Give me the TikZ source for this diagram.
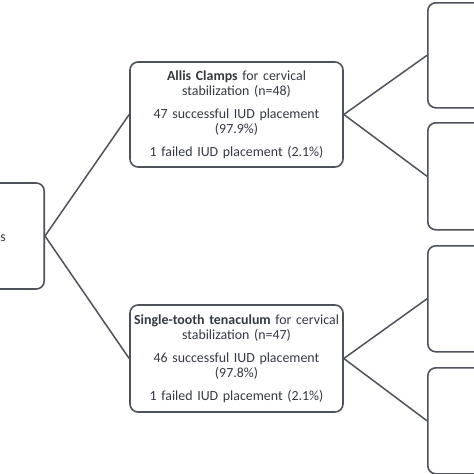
\documentclass[tikz,border=0pt]{standalone}
\usepackage{fontspec}
\setmainfont{Carlito}
\usepackage{xcolor}
\usepackage{tikz}
\usetikzlibrary{positioning}

\definecolor{edgegray}{HTML}{4E525B}
\definecolor{inkgray}{HTML}{353943}

\tikzset{
  box/.style={draw=edgegray, line width=1.6pt, rounded corners=8pt, fill=white},
  info/.style={box, text=inkgray, align=center, text width=205pt, inner sep=0pt,
    font=\fontsize{13.9pt}{15pt}\selectfont},
  link/.style={draw=edgegray, line width=1.5pt}
}

\begin{document}
\begin{tikzpicture}[x=1pt, y=-1pt]
\useasboundingbox (0,0) rectangle (474,474);

% Source box (cut off at the left)
\node[box, minimum width=110pt, minimum height=106pt, anchor=east] (src) at (45,236) {};
\node[text=inkgray, font=\fontsize{13.9pt}{15pt}\selectfont, anchor=base east, inner sep=0pt] (srcText) at (6,241) {s};

% Two arms
\node[info, minimum width=213pt, minimum height=105pt] (allis) at (236.5,114.5) {%
  \textbf{Allis Clamps} for cervical\\ stabilization (n=48)\\[7.5pt]
  47 successful IUD placement\\ (97.9\%)\\[8pt]
  1 failed IUD placement (2.1\%)};
\node[info, minimum width=213pt, minimum height=107pt] (tenac) at (236.5,358.5) {%
  \textbf{Single-tooth tenaculum} for cervical\\ stabilization (n=47)\\[7.5pt]
  46 successful IUD placement\\ (97.8\%)\\[8pt]
  1 failed IUD placement (2.1\%)};

% Outcome boxes (cut off at the right)
\foreach \i/\top/\bot in {1/2/107, 2/122/229, 3/245/351, 4/367/473} {
  \node[box, minimum width=100pt, minimum height={(\bot-\top)*1pt}, anchor=north west] (out\i) at (427,\top) {};
}

% Connectors
\draw[link] (src.east) -- (allis.west);
\draw[link] (src.east) -- (tenac.west);
\draw[link] (allis.east) -- (out1.west);
\draw[link] (allis.east) -- (out2.west);
\draw[link] (tenac.east) -- (out3.west);
\draw[link] (tenac.east) -- (out4.west);
\end{tikzpicture}
\end{document}
